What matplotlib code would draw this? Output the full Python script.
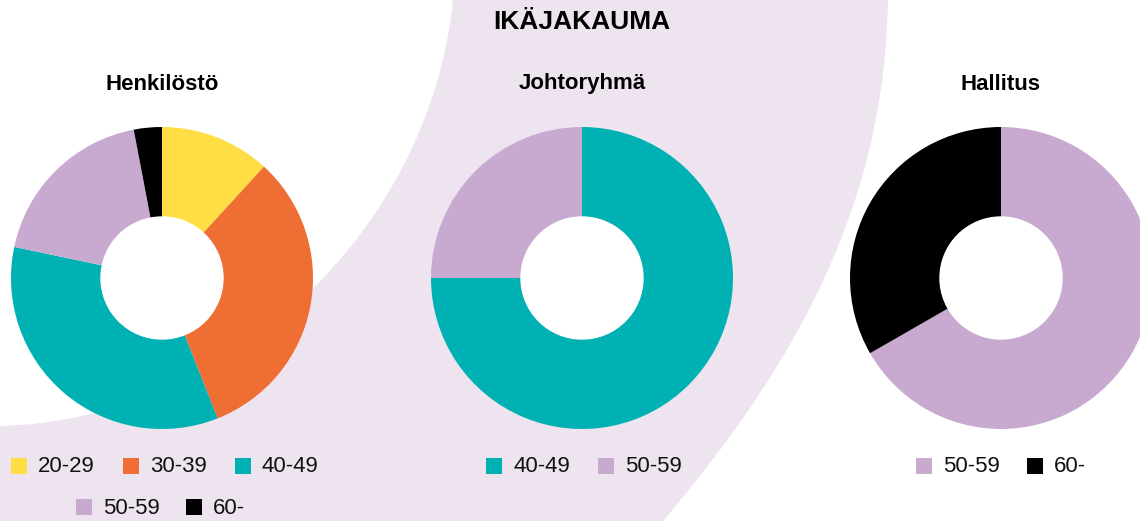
import matplotlib.pyplot as plt
from matplotlib.path import Path
from matplotlib.patches import PathPatch, Rectangle

# ---------------------------------------------------------------
# data (osuudet prosentteina)
# ---------------------------------------------------------------
title = "IKÄJAKAUMA"

henkilosto_labels = ["20-29", "30-39", "40-49", "50-59", "60-"]
henkilosto_values = [11.8, 32.2, 34.3, 18.7, 3.0]

johto_labels = ["40-49", "50-59"]
johto_values = [75, 25]

hallitus_labels = ["50-59", "60-"]
hallitus_values = [66.7, 33.3]

group_titles = ["Henkilöstö", "Johtoryhmä", "Hallitus"]

COLORS = {
    "20-29": "#FFDE45",
    "30-39": "#EE6E33",
    "40-49": "#00B1B4",
    "50-59": "#C8AAD0",
    "60-": "#000000",
}
BG_PURPLE = "#EEE4F0"

W, H = 1140, 521


def P(x, y):
    # pixel coords (y down) -> data coords (y up)
    return (x, H - y)


fig = plt.figure(figsize=(W / 100, H / 100), dpi=100)
ax = fig.add_axes([0, 0, 1, 1])

# taustan vaalea violetti muoto
verts = [
    P(453, 0),
    P(430, 230), P(230, 420), P(0, 426),
    P(0, 521),
    P(663, 521),
    P(800, 360), P(885, 200), P(888, 0),
    P(453, 0),
]
codes = [Path.MOVETO,
         Path.CURVE4, Path.CURVE4, Path.CURVE4,
         Path.LINETO,
         Path.LINETO,
         Path.CURVE4, Path.CURVE4, Path.CURVE4,
         Path.CLOSEPOLY]
ax.add_patch(PathPatch(Path(verts, codes), facecolor=BG_PURPLE,
                       edgecolor="none", zorder=0))

# donitsit
centers_x = [162, 582, 1001]
center_y = 278
R = 151
ring_w = 90

groups = [
    (henkilosto_labels, henkilosto_values),
    (johto_labels, johto_values),
    (hallitus_labels, hallitus_values),
]

for (labels, values), cx in zip(groups, centers_x):
    ax.pie(values, colors=[COLORS[l] for l in labels],
           center=P(cx, center_y), radius=R, startangle=90,
           counterclock=False,
           wedgeprops=dict(width=ring_w, edgecolor="none", linewidth=0))
    # valkoinen keskusta
    ax.add_patch(plt.Circle(P(cx, center_y), R - ring_w, color="white",
                            zorder=3))

for t, cx in zip(group_titles, centers_x):
    ax.text(*P(cx, 84), t, ha="center", va="center", fontsize=16,
            fontweight="bold", family="Liberation Sans")

ax.text(*P(582, 22), title, ha="center", va="center", fontsize=19,
        fontweight="bold", family="Liberation Sans")

# selitteet
def legend_row(labels, x0, y, step=111):
    for i, lab in enumerate(labels):
        x = x0 + i * step
        ax.add_patch(Rectangle(P(x, y + 8), 16, 16, facecolor=COLORS[lab],
                               edgecolor="none", zorder=4))
        ax.text(*P(x + 27, y + 1), lab, ha="left", va="center",
                fontsize=16, family="Liberation Sans", color="#111111")


legend_row(henkilosto_labels[:3], 11, 466, step=112)
legend_row(henkilosto_labels[3:], 76, 507, step=110)
legend_row(johto_labels, 486, 466, step=112)
legend_row(hallitus_labels, 916, 466, step=111)

ax.set_xlim(0, W)
ax.set_ylim(0, H)
ax.set_aspect("equal")
ax.axis("off")

fig.savefig("out.png", dpi=100, facecolor="white")
